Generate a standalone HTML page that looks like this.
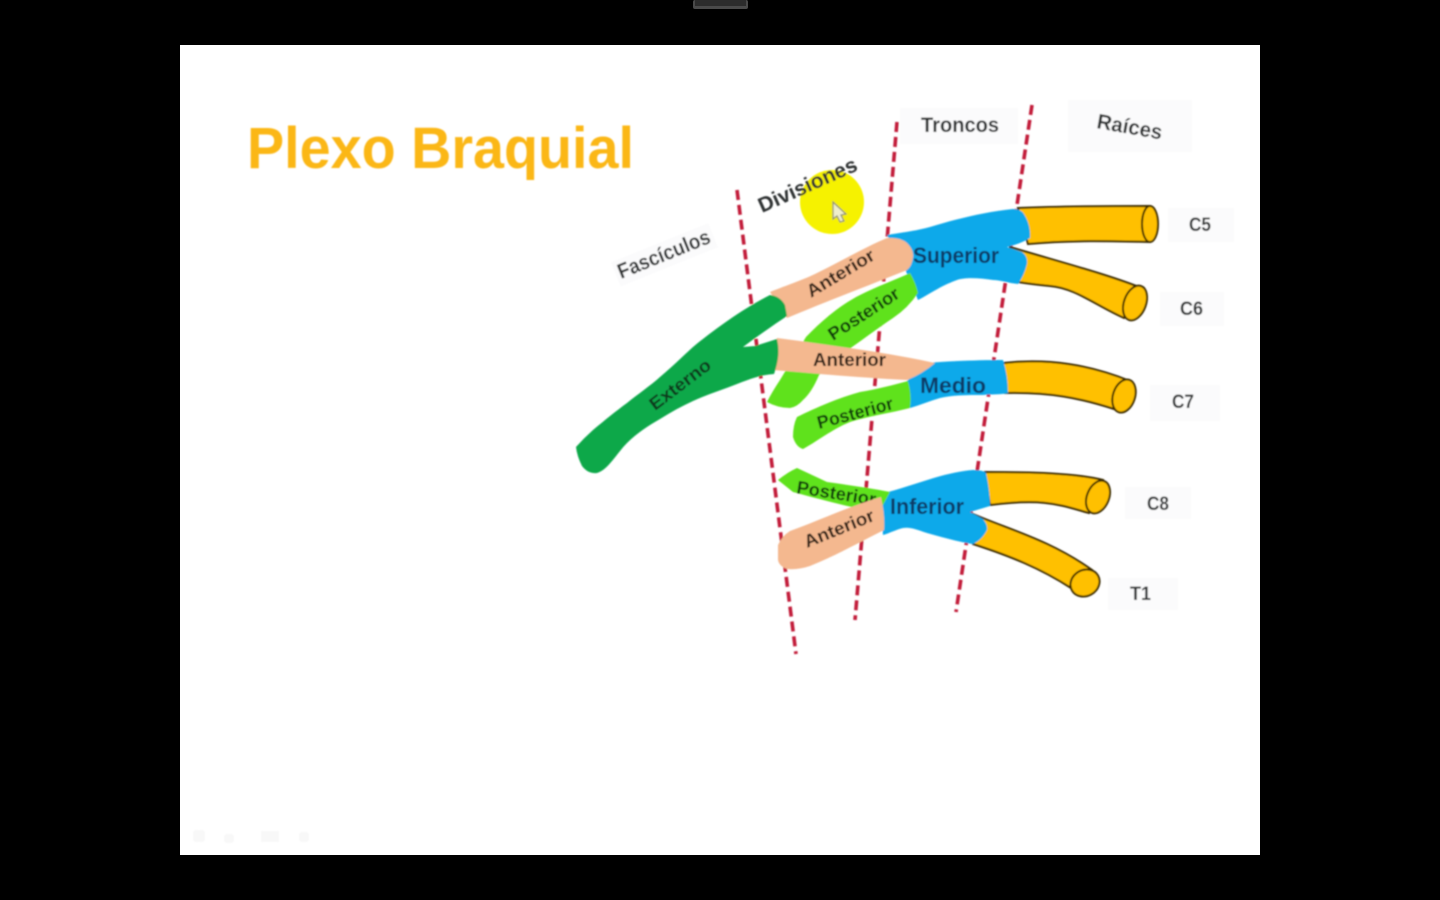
<!DOCTYPE html>
<html><head><meta charset="utf-8"><title>Plexo Braquial</title>
<style>
html,body{margin:0;padding:0;width:1440px;height:900px;overflow:hidden;background:#000}
svg{display:block;position:absolute;left:0;top:0}
text{font-family:"Liberation Sans",sans-serif}
</style></head><body>
<svg width="1440" height="900" viewBox="0 0 1440 900" xmlns="http://www.w3.org/2000/svg">
<defs><filter id="b" x="-5%" y="-5%" width="110%" height="110%"><feGaussianBlur stdDeviation="0.8"/></filter></defs>
<rect width="1440" height="900" fill="#000"/>
<rect x="693" y="0" width="55" height="9" rx="2" fill="#4a4a4a"/>
<rect x="695" y="0" width="51" height="6" fill="#2c2c2c"/>
<rect x="180" y="45" width="1080" height="810" fill="#fff"/>
<g filter="url(#b)">
<!-- faint label shadows -->
<g fill="#fbfbfc">
<rect x="900" y="108" width="118" height="36"/><rect x="1068" y="100" width="124" height="52"/>
<rect x="1168" y="208" width="66" height="34"/><rect x="1160" y="292" width="64" height="34"/>
<rect x="1150" y="385" width="70" height="36"/><rect x="1125" y="487" width="66" height="32"/><rect x="1108" y="578" width="70" height="32"/>
<rect x="612" y="242" width="105" height="26" transform="rotate(-22 664 255)"/>
</g>
<g fill="#f8f8f8"><rect x="193" y="830" width="12" height="12" rx="3"/><rect x="224" y="834" width="10" height="9" rx="3"/><rect x="261" y="831" width="18" height="11"/><rect x="299" y="832" width="10" height="10" rx="3"/></g>
<text x="247" y="168" font-size="58" font-weight="700" fill="#fbb714" textLength="387" lengthAdjust="spacingAndGlyphs">Plexo Braquial</text>
<!-- cursor highlight -->
<circle cx="832" cy="202" r="32" fill="#f6f200"/>
<path d="M833 202 L846 214 L841 215 L844 221 L840 222 L837 216 L833 219 Z" fill="#eeeecb" stroke="#8a8a70" stroke-width="1.2"/>
<!-- dashed boundaries -->
<g stroke="#c21f3a" stroke-width="3.6" stroke-dasharray="10 5" fill="none">
<path d="M737 190 L796 654"/><path d="M897 122 L855 620"/><path d="M1032 105 L956 612"/>
</g>
<!-- roots -->
<g fill="#ffc000" stroke="#3b2c05" stroke-width="2">
<path d="M1018 208 C1070 206 1120 206 1150 206 L1150 242 C1110 241 1070 240 1028 244 Z"/>
<ellipse cx="1150" cy="224" rx="8" ry="18"/>
<path d="M1010 247 C1060 262 1110 275 1144 289 L1124 318 C1095 305 1075 288 1050 286 C1040 285 1030 284 1018 282 Z"/>
<ellipse cx="1135" cy="303" rx="11" ry="18" transform="rotate(20 1135 303)"/>
<path d="M1003 363 C1050 358 1090 365 1130 381 L1114 409 C1080 398 1050 392 1005 393 Z"/>
<ellipse cx="1124" cy="396" rx="11" ry="17" transform="rotate(18 1124 396)"/>
<path d="M985 472 C1030 472 1075 473 1103 480 L1089 513 C1060 505 1045 498 990 505 Z"/>
<ellipse cx="1098" cy="497" rx="11" ry="17" transform="rotate(22 1098 497)"/>
<path d="M973 514 C1010 530 1050 540 1092 570 L1071 588 C1040 568 1010 556 973 544 Z"/>
<ellipse cx="1085" cy="583" rx="15" ry="13" transform="rotate(-30 1085 583)"/>
</g>
<!-- trunks -->
<g fill="#0ea9ea">
<path d="M887 235 C905 232 915 231 930 227 C960 218 985 212 1013 209 Q1021 209 1024 214 Q1031 225 1030 238 Q1020 244 1007 247 L1022 252 Q1028 256 1027 264 Q1024 276 1018 284 C1008 283 1000 280 993 280 C980 278 965 277 957 280 C940 286 930 294 918 300 L900 257 Z"/>
<path d="M925 363 C950 361 980 360 1003 360 Q1008 375 1008 393 C1000 395 990 394 983 395 C965 395 955 395 940 398 C930 401 920 405 910 408 L905 383 Z"/>
<path d="M888 492 C915 485 945 472 973 470 Q983 470 986 473 Q990 490 990 506 L970 512 L983 519 Q988 525 987 530 Q982 540 973 544 C958 542 942 537 927 533 C915 529 910 527 903 528 C895 530 890 533 883 535 L880 500 Z"/>
</g>
<!-- posterior divisions -->
<g fill="#5fe21a">
<path d="M806 337 C822 320 842 304 860 295 C878 286 895 280 910 273 Q916 283 918 293 Q908 308 893 318 C878 328 865 338 852 347 L835 362 L819 375 Q812 392 803 400 Q797 407 790 408 Q778 408 767 402 Q772 392 780 380 Z"/>
<path d="M860 392 C878 389 893 385 908 381 Q912 395 910 408 C890 413 870 416 853 421 C835 427 818 441 803 449 Q796 447 793 437 Q793 425 797 417 C815 408 838 398 860 392 Z"/>
<path d="M778 480 Q788 472 797 468 Q810 474 827 482 C848 485 870 488 890 492 L883 505 L860 509 C838 504 815 498 793 492 Z"/>
</g>
<text transform="translate(796 493) rotate(9)" font-weight="700" fill="#103b08" font-size="18" textLength="80" lengthAdjust="spacingAndGlyphs">Posterior</text>
<!-- anterior divisions -->
<g fill="#f4b88f">
<path d="M770 292 C790 284 800 281 815 274 C840 262 865 247 887 238 Q900 237 907 243 Q914 250 913 257 Q912 266 907 270 C870 285 825 302 787 318 Z"/>
<path d="M777 338 C830 345 885 352 935 363 Q922 374 907 380 C865 378 820 374 773 370 Z"/>
<path d="M881 497 Q885 515 884 530 C860 542 835 556 810 566 Q798 570 787 569 Q779 566 778 560 L778 545 Q782 536 790 531 C820 520 850 506 881 497 Z"/>
</g>
<!-- fascicle -->
<path fill="#0aa84a" d="M576 447 Q584 438 593 430 C605 420 616 411 627 403 C638 394 650 386 660 377 C672 367 683 356 693 347 C706 336 720 326 733 317 C745 309 758 301 770 295 Q780 296 785 305 L787 316 C772 326 755 338 743 347 L755 346 L777 339 Q781 355 774 374 C760 375 750 379 737 384 C722 390 708 394 693 401 C682 406 671 412 660 419 C648 426 637 433 627 443 C617 453 608 470 597 473 Q588 474 582 466 Q577 456 576 447 Z"/>
<!-- labels -->
<g font-weight="700" fill="#1c2b12" font-size="19">
<text transform="translate(655 411) rotate(-37)" fill="#07391c" font-size="18" textLength="72" lengthAdjust="spacingAndGlyphs">Externo</text>
<text transform="translate(811 298) rotate(-31)" fill="#302012" font-size="18" textLength="76" lengthAdjust="spacingAndGlyphs">Anterior</text>
<text transform="translate(833 341) rotate(-33)" fill="#103b08" font-size="18" textLength="81" lengthAdjust="spacingAndGlyphs">Posterior</text>
<text x="813" y="366" fill="#302012" font-size="18" textLength="73" lengthAdjust="spacingAndGlyphs">Anterior</text>
<text transform="translate(819 429) rotate(-15)" fill="#103b08" font-size="18" textLength="78" lengthAdjust="spacingAndGlyphs">Posterior</text>
<text transform="translate(807 548) rotate(-22)" fill="#302012" font-size="18" textLength="74" lengthAdjust="spacingAndGlyphs">Anterior</text>
</g>
<g font-weight="700" font-size="22" fill="#083a66">
<text x="913" y="263" textLength="86" lengthAdjust="spacingAndGlyphs">Superior</text>
<text x="920" y="393" textLength="66" lengthAdjust="spacingAndGlyphs">Medio</text>
<text x="890" y="514" textLength="74" lengthAdjust="spacingAndGlyphs">Inferior</text>
</g>
<g font-weight="700" font-size="21" fill="#2d3033">
<text transform="translate(621 279) rotate(-22)" textLength="98" lengthAdjust="spacingAndGlyphs">Fascículos</text>
<text transform="translate(762 213) rotate(-24)" textLength="106" lengthAdjust="spacingAndGlyphs">Divisiones</text>
<text x="921" y="132" textLength="78" lengthAdjust="spacingAndGlyphs">Troncos</text>
<text transform="translate(1096 128) rotate(10)" textLength="66" lengthAdjust="spacingAndGlyphs">Raíces</text>
</g>
<g font-weight="700" font-size="19" fill="#2d3033">
<text x="1189" y="231" textLength="22" lengthAdjust="spacingAndGlyphs">C5</text>
<text x="1180" y="315" textLength="23" lengthAdjust="spacingAndGlyphs">C6</text>
<text x="1172" y="408" textLength="22" lengthAdjust="spacingAndGlyphs">C7</text>
<text x="1147" y="510" textLength="22" lengthAdjust="spacingAndGlyphs">C8</text>
<text x="1130" y="600" textLength="21" lengthAdjust="spacingAndGlyphs">T1</text>
</g>
</g>
</svg>
</body></html>
